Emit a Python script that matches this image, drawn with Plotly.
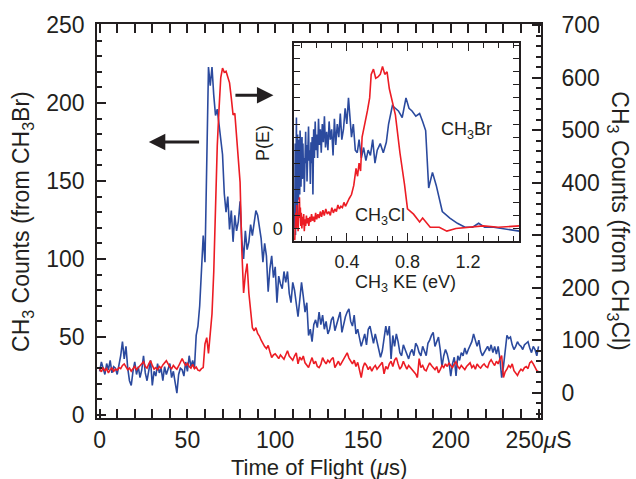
import plotly.graph_objects as go

# ---------------- main data (time of flight, 1 us steps) ----------------
tof = list(range(0, 251))

ch3br_counts = [
    28, 34, 30, 26, 33, 29, 35, 27, 31, 30,
    26, 32, 38, 47, 36, 44, 30, 22, 19, 28,
    34, 26, 31, 24, 29, 38, 27, 22, 30, 35,
    19, 28, 25, 33, 27, 30, 22, 31, 26, 29,
    33, 24, 28, 21, 14, 26, 30, 29, 25, 34,
    28, 38, 31, 35, 30, 51, 57, 70, 98, 115,
    98, 160, 223, 211, 223, 205, 192, 196, 185, 175,
    167, 142, 130, 140, 119, 131, 111, 128, 118, 124,
    137, 112, 100, 118, 106, 111, 122, 115, 125, 131,
    128, 119, 113, 98, 110, 102, 79, 94, 102, 88,
    95, 72, 89, 84, 81, 92, 85, 92, 78, 72,
    85, 80, 70, 63, 74, 85, 76, 66, 72, 51,
    55, 47, 58, 61, 56, 66, 58, 64, 55, 60,
    52, 55, 61, 63, 54, 58, 62, 66, 53, 59,
    63, 66, 68, 60, 57, 64, 52, 55, 49, 44,
    48, 52, 45, 55, 57, 50, 46, 52, 47, 42,
    37, 41, 48, 57, 51, 57, 36, 51, 44, 52,
    47, 40, 38, 45, 42, 39, 36, 40, 42, 38,
    46, 44, 40, 38, 44, 41, 38, 46, 48, 51,
    53, 44, 47, 50, 42, 31, 38, 42, 39, 34,
    25, 33, 37, 25, 38, 35, 40, 38, 43, 39,
    42, 45, 47, 52, 48, 44, 48, 41, 38, 40,
    42, 44, 41, 45, 40, 44, 39, 44, 36, 24,
    31, 42, 51, 49, 50, 45, 42, 44, 47, 45,
    44, 42, 45, 46, 47, 43, 40, 44, 42, 38,
    44,
]

ch3cl_counts = [
    45, 40, 48, 42, 46, 38, 44, 47, 41, 45,
    43, 48, 46, 52, 55, 49, 44, 47, 41, 46,
    50, 44, 48, 52, 54, 59, 50, 47, 55, 61,
    52, 45, 48, 44, 50, 47, 53, 58, 61, 55,
    49, 46, 52, 48, 45, 51, 59, 65, 58, 52,
    56, 50, 47, 54, 46, 49, 43, 42, 46, 48,
    93, 105, 75, 110, 150, 230, 376, 470, 540, 600,
    618, 610, 612, 600, 590, 561, 529, 532, 485, 452,
    401, 271, 190, 225, 246, 190, 155, 124, 118, 124,
    113, 108, 100, 93, 88, 84, 90, 78, 67, 72,
    74, 70, 65, 72, 68, 64, 72, 80, 70, 66,
    62, 70, 76, 55, 68, 62, 70, 57, 52, 48,
    58, 67, 55, 60, 50, 48, 54, 67, 60, 55,
    62, 58, 64, 67, 48, 55, 60, 52, 58, 65,
    70, 76, 66, 60, 55, 62, 50, 58, 45, 29,
    48, 57, 52, 44, 50, 41, 48, 52, 45, 50,
    55, 58, 36, 50, 45, 55, 60, 50, 62, 67,
    55, 45, 50, 60, 52, 45, 52, 48, 45, 40,
    36, 29, 65, 48, 52, 44, 42, 50, 57, 52,
    48, 44, 50, 38, 44, 52, 48, 55, 50, 57,
    52, 48, 55, 59, 50, 46, 52, 48, 44, 50,
    54, 57, 48, 52, 45, 55, 50, 47, 52, 55,
    50, 48, 58, 63, 57, 52, 60, 55, 64, 71,
    29, 40, 45, 52, 48, 55, 42, 38, 33, 40,
    45, 42, 48, 50, 46, 57, 60, 55, 48, 42,
    40,
]

x_tickvals = [0, 50, 100, 150, 200, 250]
x_ticktext = ["0", "50", "100", "150", "200", "250<i>\u03bc</i>S"]
y_left_ticks = [0, 50, 100, 150, 200, 250]
y_right_ticks = [0, 100, 200, 300, 400, 500, 600, 700]

# ---------------- inset data: P(E) vs CH3 KE (eV) ----------------
br_energy = [
    0.055, 0.058, 0.060, 0.062, 0.064, 0.066, 0.068, 0.070, 0.072, 0.074,
    0.076, 0.078, 0.080, 0.082, 0.084, 0.086, 0.088, 0.090, 0.092, 0.094,
    0.096, 0.098, 0.100, 0.103, 0.106, 0.109, 0.112, 0.115, 0.118, 0.121,
    0.124, 0.127, 0.130, 0.133, 0.136, 0.139, 0.142, 0.146, 0.150, 0.154,
    0.158, 0.162, 0.166, 0.170, 0.175, 0.180, 0.185, 0.190, 0.195, 0.200,
    0.206, 0.212, 0.218, 0.224, 0.230, 0.237, 0.244, 0.251, 0.258, 0.266,
    0.274, 0.282, 0.290, 0.299, 0.308, 0.317, 0.326, 0.336, 0.346, 0.356,
    0.366, 0.377, 0.388, 0.399, 0.410, 0.420, 0.430, 0.442, 0.455, 0.468,
    0.480, 0.495, 0.510, 0.525, 0.540, 0.555, 0.570, 0.585, 0.600, 0.620,
    0.640, 0.660, 0.675, 0.700, 0.720, 0.740, 0.765, 0.790, 0.810, 0.830,
    0.855, 0.880, 0.900, 0.920, 0.940, 0.965, 0.990, 1.030, 1.080, 1.130,
    1.180, 1.230, 1.270, 1.310, 1.370, 1.420, 1.480, 1.540,
]
br_pe = [
    0.0, 6.5, -0.5, 7.8, 1.0, 8.5, 2.0, 6.0, 0.5, 7.2,
    3.0, 5.5, 2.2, 6.8, 3.5, 5.0, 2.6, 7.5, 4.0, 6.2,
    3.2, 5.8, 4.4, 7.0, 3.8, 6.5, 4.6, 5.4, 2.8, 6.0,
    4.2, 7.4, 5.0, 6.4, 3.6, 5.6, 4.8, 7.8, 5.2, 6.0,
    3.4, 6.6, 5.0, 7.0, 2.6, 7.6, 5.4, 8.2, 6.0, 7.2,
    5.4, 8.4, 6.4, 7.6, 5.8, 8.0, 6.6, 8.6, 6.2, 7.4,
    6.0, 8.2, 6.8, 7.6, 5.6, 8.4, 6.4, 8.0, 7.0, 8.8,
    6.8, 7.6, 9.2, 8.0, 10.0, 8.6, 7.0, 8.0, 6.0, 5.8,
    6.8, 5.4, 6.2, 5.2, 6.0, 5.6, 6.8, 5.0, 6.0, 6.5,
    5.8, 6.6, 8.0, 9.4, 9.2, 9.0, 8.5, 10.0, 9.2, 9.0,
    8.6, 8.8, 8.2, 7.5, 3.1, 4.3, 3.3, 1.3, 0.8, 0.4,
    0.1, 0.1, 0.4, 0.1, 0.1, 0.0, -0.1, -0.2,
]

cl_energy = [
    0.055, 0.058, 0.060, 0.062, 0.065, 0.068, 0.071, 0.074, 0.077, 0.080,
    0.083, 0.086, 0.089, 0.092, 0.095, 0.098, 0.102, 0.106, 0.110, 0.114,
    0.118, 0.122, 0.127, 0.132, 0.137, 0.142, 0.148, 0.154, 0.160, 0.166,
    0.172, 0.179, 0.186, 0.193, 0.200, 0.208, 0.216, 0.224, 0.232, 0.241,
    0.250, 0.260, 0.270, 0.280, 0.290, 0.300, 0.310, 0.320, 0.330, 0.340,
    0.350, 0.360, 0.370, 0.380, 0.390, 0.400, 0.415, 0.430, 0.445, 0.460,
    0.470, 0.480, 0.490, 0.500, 0.520, 0.535, 0.550, 0.560, 0.575, 0.590,
    0.605, 0.620, 0.635, 0.650, 0.665, 0.680, 0.720, 0.750, 0.780, 0.800,
    0.840, 0.880, 0.900, 0.930, 0.950, 1.010, 1.060, 1.120, 1.200, 1.300,
    1.400, 1.500, 1.540,
]
cl_pe = [
    -0.9, 0.5, -0.6, 1.2, 0.0, 1.8, 0.3, 1.0, -0.2, 1.4,
    0.4, 2.4, 0.8, 1.6, 0.2, 1.2, 0.0, 0.9, 0.3, 1.1,
    -0.2, 0.7, 0.2, 1.0, 0.4, 0.8, 0.2, 0.9, 0.5, 1.1,
    0.6, 0.9, 0.5, 1.2, 0.7, 1.1, 0.8, 1.3, 0.9, 1.4,
    1.0, 1.5, 1.1, 1.3, 1.0, 1.6, 1.2, 1.5, 1.3, 1.8,
    1.5, 1.7, 1.6, 2.0, 1.7, 2.0, 2.3, 2.6, 3.3, 4.6,
    4.0, 5.0, 4.4, 7.0, 8.0, 9.0, 10.0, 11.8, 12.2, 11.5,
    11.6, 11.8, 12.4, 11.8, 12.0, 10.7, 8.7, 5.8, 3.4, 1.5,
    1.1, 0.5, 0.8, 0.4, 0.1, 0.1, -0.2, 0.0, 0.1, 0.2,
    0.1, 0.2, 0.2,
]
inset_x_ticks = [0.4, 0.8, 1.2]
inset_x_ticktext = ["0.4", "0.8", "1.2"]

BLUE = "#2b4a9e"
RED = "#ec1c24"
INK = "#231f20"
FONT = "Liberation Sans, Arial, Helvetica, sans-serif"

fig = go.Figure()
fig.add_trace(go.Scatter(x=tof, y=ch3br_counts, mode="lines",
                         line=dict(color=BLUE, width=1.6), xaxis="x", yaxis="y",
                         showlegend=False))
fig.add_trace(go.Scatter(x=tof, y=ch3cl_counts, mode="lines",
                         line=dict(color=RED, width=1.6), xaxis="x", yaxis="y2",
                         showlegend=False))
fig.add_trace(go.Scatter(x=br_energy, y=br_pe, mode="lines",
                         line=dict(color=BLUE, width=1.6), xaxis="x3", yaxis="y3",
                         showlegend=False))
fig.add_trace(go.Scatter(x=cl_energy, y=cl_pe, mode="lines",
                         line=dict(color=RED, width=1.6), xaxis="x3", yaxis="y3",
                         showlegend=False))

tickfont = dict(family=FONT, size=23, color=INK)
insetfont = dict(family=FONT, size=18, color=INK)

fig.update_layout(
    width=636, height=479,
    margin=dict(l=97, r=95, t=24, b=61),
    paper_bgcolor="white", plot_bgcolor="white",
    font=dict(family=FONT, color=INK),
    xaxis=dict(range=[-1.5, 251.4], tickvals=x_tickvals, ticktext=x_ticktext,
               ticks="inside", ticklen=9, tickwidth=1.5, tickcolor=INK,
               minor=dict(dtick=10, tick0=0, ticks="inside", ticklen=5, tickwidth=1.5, tickcolor=INK),
               showline=True, linewidth=1.6, linecolor=INK, mirror="allticks",
               showgrid=False, zeroline=False, tickfont=tickfont, ticklabelstandoff=1,
               domain=[0, 1]),
    yaxis=dict(range=[-1.9, 250.6], tickvals=y_left_ticks,
               ticks="inside", ticklen=9, tickwidth=1.5, tickcolor=INK,
               minor=dict(dtick=10, tick0=0, ticks="inside", ticklen=5, tickwidth=1.5, tickcolor=INK),
               showline=True, linewidth=1.6, linecolor=INK,
               showgrid=False, zeroline=False, tickfont=tickfont, ticklabelstandoff=6),
    yaxis2=dict(range=[-48, 702], tickvals=y_right_ticks, overlaying="y", side="right",
                ticks="inside", ticklen=9, tickwidth=1.5, tickcolor=INK,
                minor=dict(dtick=20, tick0=0, ticks="inside", ticklen=5, tickwidth=1.5, tickcolor=INK),
                showline=True, linewidth=1.6, linecolor=INK,
                showgrid=False, zeroline=False, tickfont=tickfont, ticklabelstandoff=14),
    xaxis3=dict(domain=[0.4437, 0.9505], anchor="y3", range=[0.05, 1.537],
                tickvals=inset_x_ticks, ticktext=inset_x_ticktext,
                ticks="inside", ticklen=8, tickwidth=1.3, tickcolor=INK,
                minor=dict(dtick=0.1, tick0=0, ticks="inside", ticklen=5, tickwidth=1.3, tickcolor=INK),
                showline=True, linewidth=1.5, linecolor=INK, mirror="allticks",
                showgrid=False, zeroline=False, tickfont=insetfont, ticklabelstandoff=4),
    yaxis3=dict(domain=[0.4504, 0.9517], anchor="x3", range=[-0.92, 14.2],
                tickvals=[0], ticktext=["0"],
                ticks="inside", ticklen=6, tickwidth=1.3, tickcolor=INK,
                minor=dict(dtick=1, tick0=0, ticks="inside", ticklen=6, tickwidth=1.3, tickcolor=INK),
                showline=True, linewidth=1.5, linecolor=INK, mirror="allticks",
                showgrid=False, zeroline=False, tickfont=insetfont, ticklabelstandoff=6),
)

annotations = [
    dict(text="Time of Flight (<i>\u03bc</i>s)", xref="paper", yref="paper", x=0.5, y=(418 - 467) / 394,
         xanchor="center", yanchor="middle", showarrow=False, font=dict(family=FONT, size=22, color=INK)),
    dict(text="CH<sub>3</sub> Counts (from CH<sub>3</sub>Br)", xref="paper", yref="paper",
         x=-0.169, y=0.5, xanchor="center", yanchor="middle", textangle=-90, showarrow=False,
         font=dict(family=FONT, size=23, color=INK)),
    dict(text="CH<sub>3</sub> Counts (from CH<sub>3</sub>Cl)", xref="paper", yref="paper",
         x=1.175, y=0.5, xanchor="center", yanchor="middle", textangle=90, showarrow=False,
         font=dict(family=FONT, size=23, color=INK)),
    dict(text="CH<sub>3</sub> KE (eV)", xref="x3", yref="paper", x=0.79, y=(418 - 283) / 394,
         xanchor="center", yanchor="middle", showarrow=False, font=insetfont),
    dict(text="P(E)", xref="paper", yref="paper", x=(263 - 97) / 444, y=(418 - 143) / 394,
         xanchor="center", yanchor="middle", textangle=-90, showarrow=False, font=insetfont),
    dict(text="CH<sub>3</sub>Br", xref="x3", yref="y3", x=1.19, y=7.5,
         xanchor="center", yanchor="middle", showarrow=False, font=insetfont),
    dict(text="CH<sub>3</sub>Cl", xref="x3", yref="y3", x=0.62, y=0.9,
         xanchor="center", yanchor="middle", showarrow=False, font=insetfont),
    # arrows pointing to the relevant axes
    dict(text="", x=28.0, y=175.0, ax=57.5, ay=175.0, xref="x", yref="y", axref="x", ayref="y",
         showarrow=True, arrowhead=2, arrowsize=1.1, arrowwidth=3, arrowcolor=INK),
    dict(text="", x=99.0, y=205.0, ax=76.5, ay=205.0, xref="x", yref="y", axref="x", ayref="y",
         showarrow=True, arrowhead=2, arrowsize=1.1, arrowwidth=3, arrowcolor=INK),
]
fig.update_layout(annotations=annotations)

fig.write_html("out.html")
